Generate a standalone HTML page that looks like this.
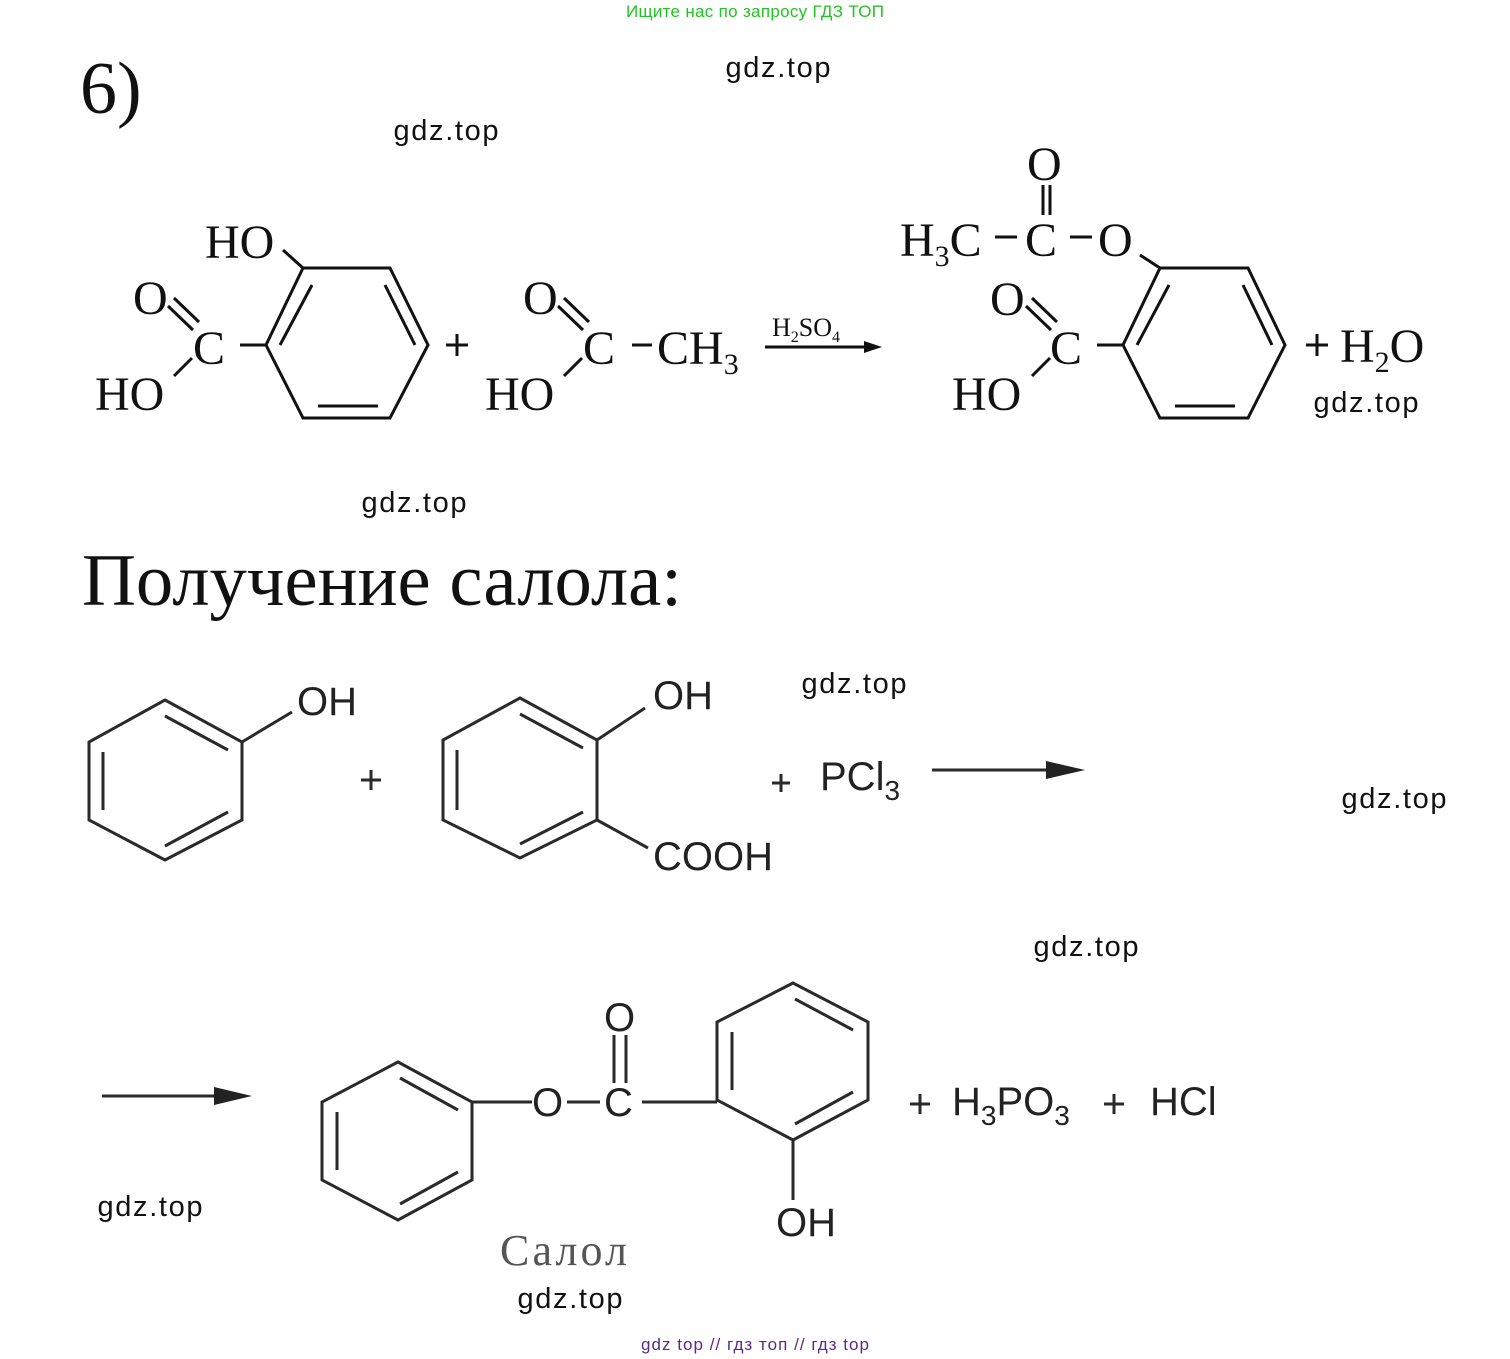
<!DOCTYPE html>
<html><head><meta charset="utf-8"><style>
html,body{margin:0;padding:0;background:#fff;}
svg{display:block;}
.s{font-family:"Liberation Serif","DejaVu Serif",serif;fill:#111;}
.a{font-family:"Liberation Sans","DejaVu Sans",sans-serif;fill:#222;}
.w{font-family:"Liberation Sans","DejaVu Sans",sans-serif;fill:#111;font-size:29px;}
</style></head><body>
<svg width="1510" height="1359" viewBox="0 0 1510 1359" xmlns="http://www.w3.org/2000/svg">
<text x="755" y="17" text-anchor="middle" font-family="Liberation Sans, sans-serif" font-size="17" fill="#22c322" textLength="258">Ищите нас по запросу ГДЗ ТОП</text>
<text x="755" y="1350" text-anchor="middle" font-family="Liberation Sans, sans-serif" font-size="17" fill="#5a2a8a" textLength="228">gdz top  //  гдз топ  //  гдз top</text>

<text class="s" x="80" y="113" font-size="74">6)</text>
<text class="s" x="82" y="605" font-size="74" textLength="600" lengthAdjust="spacingAndGlyphs">Получение салола:</text>

<g class="w" text-anchor="middle">
<text x="778" y="77" textLength="105">gdz.top</text>
<text x="446" y="140" textLength="105">gdz.top</text>
<text x="414" y="512" textLength="105">gdz.top</text>
<text x="1366" y="412" textLength="105">gdz.top</text>
<text x="854" y="693" textLength="105">gdz.top</text>
<text x="1394" y="808" textLength="105">gdz.top</text>
<text x="1086" y="956" textLength="105">gdz.top</text>
<text x="150" y="1216" textLength="105">gdz.top</text>
<text x="570" y="1308" textLength="105">gdz.top</text>
</g>

<g stroke="#111" stroke-width="3" fill="none">
<polygon points="303,268 390,268 428,345 390,418 303,418 266,345"/>
<line x1="312" y1="285" x2="280" y2="345"/>
<line x1="385" y1="285" x2="415" y2="345"/>
<line x1="318" y1="406" x2="378" y2="406"/>
<line x1="283" y1="250" x2="303" y2="268"/>
<line x1="240" y1="345" x2="266" y2="345"/>
<line x1="168" y1="306" x2="193" y2="330"/>
<line x1="174" y1="298" x2="199" y2="322"/>
<line x1="174" y1="376" x2="192" y2="358"/>
<line x1="446" y1="345" x2="468" y2="345"/><line x1="457" y1="334" x2="457" y2="356"/>
<line x1="558" y1="306" x2="583" y2="330"/>
<line x1="564" y1="298" x2="589" y2="322"/>
<line x1="564" y1="376" x2="582" y2="358"/>
<line x1="632" y1="345" x2="652" y2="345"/>
<line x1="765" y1="347" x2="870" y2="347"/>
<line x1="1043" y1="185" x2="1043" y2="215"/><line x1="1050" y1="185" x2="1050" y2="215"/>
<line x1="995" y1="237" x2="1017" y2="237"/><line x1="1070" y1="237" x2="1092" y2="237"/>
<polygon points="1160,268 1248,268 1285,345 1248,418 1160,418 1123,345"/>
<line x1="1169" y1="285" x2="1137" y2="345"/>
<line x1="1243" y1="285" x2="1272" y2="345"/>
<line x1="1175" y1="406" x2="1235" y2="406"/>
<line x1="1140" y1="255" x2="1160" y2="268"/>
<line x1="1097" y1="345" x2="1123" y2="345"/>
<line x1="1026" y1="306" x2="1051" y2="330"/>
<line x1="1032" y1="298" x2="1057" y2="322"/>
<line x1="1032" y1="376" x2="1050" y2="358"/>
<line x1="1306" y1="345" x2="1328" y2="345"/><line x1="1317" y1="334" x2="1317" y2="356"/>
</g>
<polygon points="864,341 882,347 864,353" fill="#111"/>

<g class="s" font-size="48">
<text x="205" y="258">HO</text>
<text x="193" y="364">C</text>
<text x="133" y="314">O</text>
<text x="95" y="410">HO</text>
<text x="523" y="314">O</text>
<text x="583" y="364">C</text>
<text x="657" y="364">CH<tspan font-size="30" dy="10">3</tspan></text>
<text x="485" y="410">HO</text>
<text x="1027" y="180">O</text>
<text x="900" y="256">H<tspan font-size="30" dy="10">3</tspan><tspan dy="-10">C</tspan></text>
<text x="1025" y="256">C</text>
<text x="1098" y="256">O</text>
<text x="1050" y="364">C</text>
<text x="990" y="315">O</text>
<text x="952" y="410">HO</text>
<text x="1340" y="362">H<tspan font-size="30" dy="10">2</tspan><tspan dy="-10">O</tspan></text>
</g>
<text class="s" x="772" y="336" font-size="26">H<tspan font-size="16" dy="6">2</tspan><tspan dy="-6">SO</tspan><tspan font-size="16" dy="6">4</tspan></text>

<g stroke="#2a2a2a" stroke-width="3" fill="none">
<polygon points="165,700 242,742 242,820 165,860 89,820 89,742"/>
<line x1="165" y1="716" x2="228" y2="750"/>
<line x1="228" y1="812" x2="165" y2="846"/>
<line x1="103" y1="752" x2="103" y2="810"/>
<line x1="242" y1="742" x2="292" y2="712"/>
<line x1="361" y1="780" x2="381" y2="780"/><line x1="371" y1="770" x2="371" y2="790"/>
<polygon points="520,698 597,740 597,820 520,858 443,820 443,740"/>
<line x1="520" y1="714" x2="583" y2="748"/>
<line x1="583" y1="812" x2="520" y2="844"/>
<line x1="457" y1="750" x2="457" y2="810"/>
<line x1="597" y1="740" x2="645" y2="708"/>
<line x1="597" y1="820" x2="648" y2="848"/>
<line x1="772" y1="783" x2="790" y2="783"/><line x1="781" y1="774" x2="781" y2="792"/>
<line x1="932" y1="770" x2="1060" y2="770"/>
<line x1="102" y1="1096" x2="228" y2="1096"/>
<polygon points="398,1062 472,1102 472,1180 398,1220 322,1180 322,1102"/>
<line x1="400" y1="1078" x2="458" y2="1110"/>
<line x1="458" y1="1172" x2="400" y2="1204"/>
<line x1="337" y1="1112" x2="337" y2="1170"/>
<line x1="472" y1="1102" x2="532" y2="1102"/>
<line x1="567" y1="1102" x2="600" y2="1102"/>
<line x1="614" y1="1035" x2="614" y2="1083"/><line x1="626" y1="1035" x2="626" y2="1083"/>
<line x1="642" y1="1102" x2="717" y2="1102"/>
<polygon points="793,983 868,1022 868,1100 793,1140 717,1100 717,1022"/>
<line x1="795" y1="999" x2="853" y2="1030"/>
<line x1="853" y1="1092" x2="795" y2="1124"/>
<line x1="732" y1="1032" x2="732" y2="1090"/>
<line x1="793" y1="1140" x2="793" y2="1200"/>
<line x1="910" y1="1104" x2="930" y2="1104"/><line x1="920" y1="1094" x2="920" y2="1114"/>
<line x1="1104" y1="1104" x2="1124" y2="1104"/><line x1="1114" y1="1094" x2="1114" y2="1114"/>
</g>
<polygon points="1046,761 1085,770 1046,779" fill="#222"/>
<polygon points="214,1087 252,1096 214,1105" fill="#222"/>

<g class="a" font-size="40">
<text x="297" y="715">OH</text>
<text x="653" y="709">OH</text>
<text x="653" y="870">COOH</text>
<text x="820" y="790">PCl<tspan font-size="28" dy="10">3</tspan></text>
<text x="532" y="1116">O</text>
<text x="604" y="1116">C</text>
<text x="604" y="1031">O</text>
<text x="776" y="1236">OH</text>
<text x="952" y="1115">H<tspan font-size="28" dy="10">3</tspan><tspan dy="-10">PO</tspan><tspan font-size="28" dy="10">3</tspan></text>
<text x="1150" y="1115">HCl</text>
</g>
<text x="500" y="1265" font-family="Liberation Serif, serif" font-size="44" fill="#555" textLength="127">Салол</text>
</svg>
</body></html>
